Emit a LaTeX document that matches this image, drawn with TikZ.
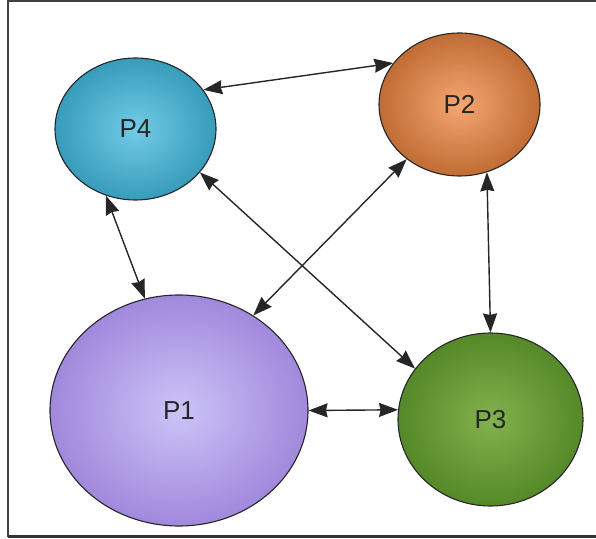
\documentclass[tikz,border=0pt]{standalone}
\usepackage{fontspec}
\setmainfont{Liberation Sans}
\usetikzlibrary{shapes.geometric,arrows.meta}
\definecolor{pfourin}{HTML}{72CBE6}
\definecolor{pfourout}{HTML}{379CBA}
\definecolor{ptwoin}{HTML}{F5A672}
\definecolor{ptwoout}{HTML}{C06C34}
\definecolor{poneinn}{HTML}{CCC4F8}
\definecolor{poneout}{HTML}{A188DC}
\definecolor{pthreein}{HTML}{82B24C}
\definecolor{pthreeout}{HTML}{558828}
\begin{document}
\begin{tikzpicture}[x=1pt,y=1pt,
  proc/.style={ellipse, inner sep=0pt, draw=black!85, line width=1.1pt,
    font=\fontsize{26}{26}\selectfont, text=black!85},
  link/.style={{Stealth[length=19pt,width=14pt,inset=1.5pt]}-{Stealth[length=19pt,width=14pt,inset=1.5pt]},
    line width=1.4pt, draw=black!85}]
\useasboundingbox (0,0) rectangle (596,538);
\draw[line width=1.5pt, black!75] (596,537) -- (8,537) -- (8,1.5);
\draw[line width=3pt, black!80] (8,1.5) -- (596,1.5);

\node[proc, minimum width=161pt, minimum height=142pt, inner color=pfourin, outer color=pfourout] (P4) at (135.5,409) {P4};
\node[proc, minimum width=161pt, minimum height=143pt, inner color=ptwoin, outer color=ptwoout] (P2) at (459.5,433.5) {P2};
\node[proc, minimum width=258pt, minimum height=231pt, inner color=poneinn, outer color=poneout] (P1) at (179,127.5) {P1};
\node[proc, minimum width=185pt, minimum height=173pt, inner color=pthreein, outer color=pthreeout] (P3) at (490.5,118.5) {P3};

\draw[link] (P4.30) -- (P2.148);
\draw[link] (P4.246) -- (P1.107);
\draw[link] (P4.-34.5) -- (P3.146);
\draw[link] (P2.226) -- (P1.52);
\draw[link] (P2.292.5) -- (P3.90);
\draw[link] (P1.0.5) -- (P3.174);
\end{tikzpicture}
\end{document}
